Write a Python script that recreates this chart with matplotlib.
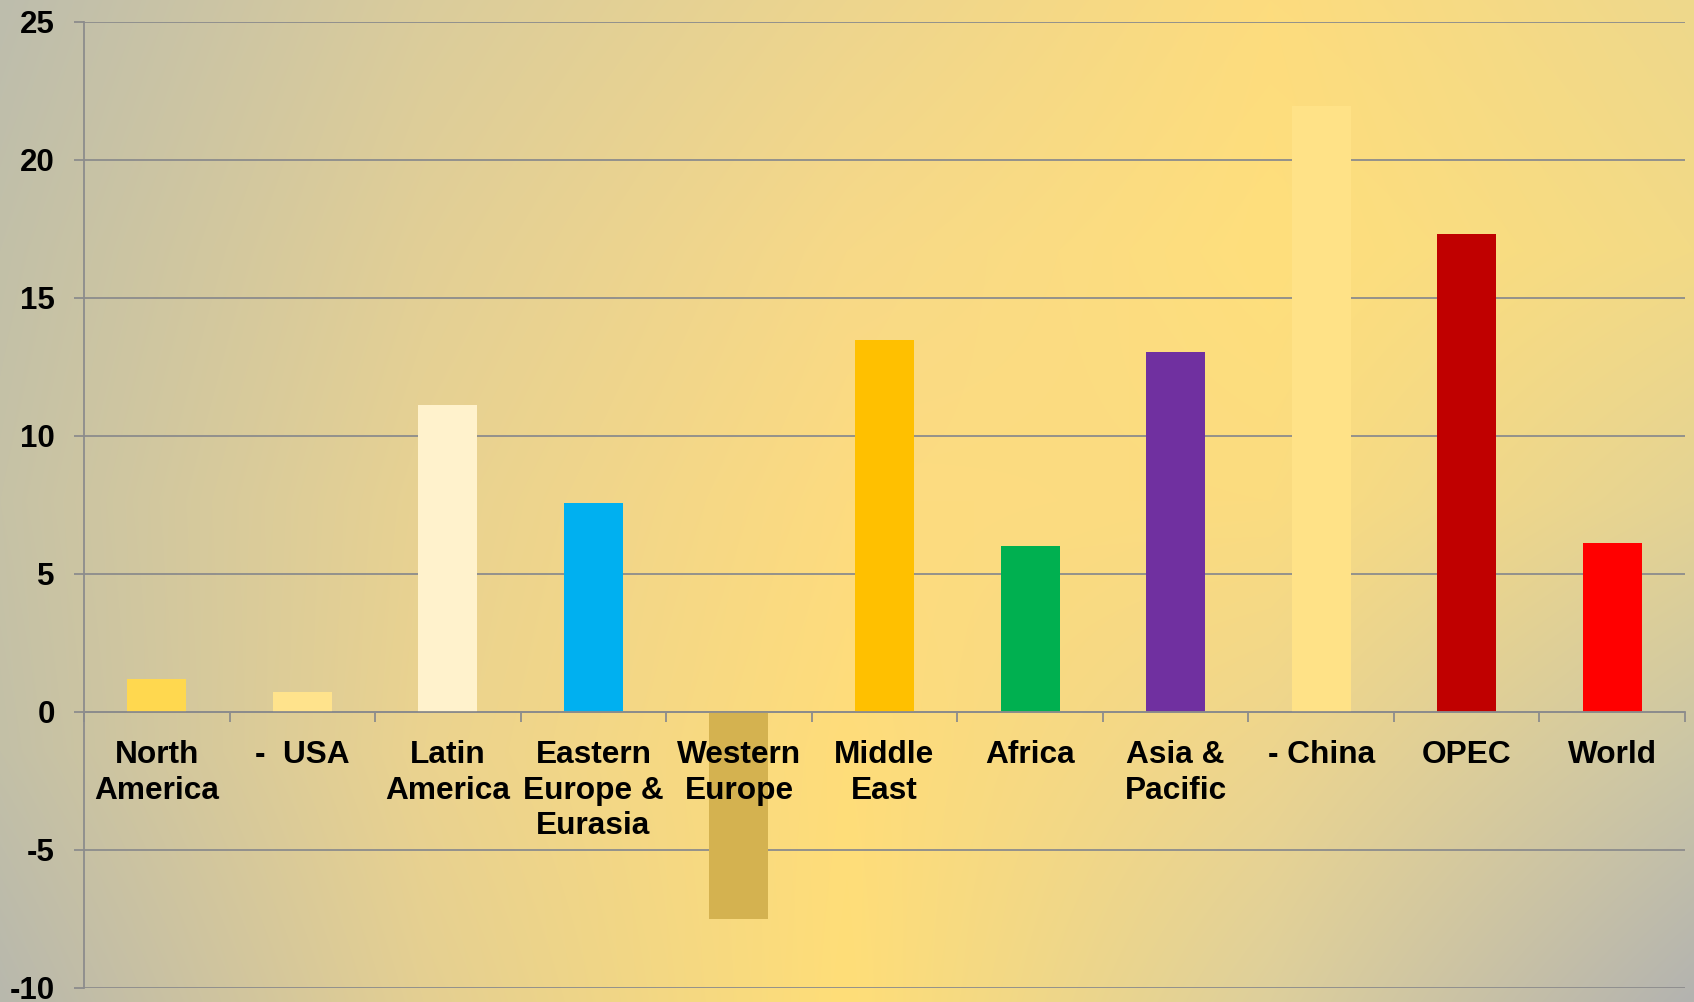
import numpy as np
import matplotlib
matplotlib.use("Agg")
import matplotlib.pyplot as plt

# data
regions = ["North\nAmerica", "-  USA", "Latin\nAmerica", "Eastern\nEurope &\nEurasia",
           "Western\nEurope", "Middle\nEast", "Africa", "Asia &\nPacific",
           "- China", "OPEC", "World"]
values = [1.2, 0.7, 11.1, 7.55, -7.5, 13.45, 6.0, 13.05, 21.95, 17.3, 6.1]
bar_colors = ["#FFD84F", "#FFE38C", "#FFF2CC", "#00B0F0", "#D4B250", "#FFC000",
              "#00B050", "#7030A0", "#FFE287", "#C00000", "#FF0000"]
yticks = [-10, -5, 0, 5, 10, 15, 20, 25]

W, H = 1694, 1002
grid_col = "#8C8C8C"

# background colour samples (rows top->bottom, cols left->right)
bg_cols = [
    ["#BDBDAD", "#DACC9C", "#EDD58E", "#FDDC7E", "#EED88C"],
    ["#C2C0A8", "#E2CF96", "#F7D988", "#FFDF7C", "#F3DA86"],
    ["#C6C2A6", "#E8D292", "#FDDB80", "#FBDC80", "#E4D394"],
    ["#C3C0A7", "#EBD38F", "#FFDD7A", "#EDD58E", "#CBC6A6"],
    ["#B8B8AD", "#E4CF92", "#FFDE78", "#DDCF9C", "#B3B3B0"],
]

plt.rcParams["font.family"] = ["Liberation Sans", "DejaVu Sans"]
plt.rcParams["font.weight"] = "bold"

fig = plt.figure(figsize=(W / 100, H / 100), dpi=100)

# smooth background from the sampled colours
samples = np.array([[matplotlib.colors.to_rgb(c) for c in row] for row in bg_cols])
gx = np.linspace(0, W - 1, samples.shape[1])
gy = np.linspace(0, H - 1, samples.shape[0])
px = np.arange(W)
py = np.arange(H)
rows = np.stack([np.stack([np.interp(px, gx, samples[r, :, ch]) for ch in range(3)], -1)
                 for r in range(samples.shape[0])])
img = np.stack([np.stack([np.interp(py, gy, rows[:, i, ch]) for i in range(W)], -1)
                for ch in range(3)], -1)
bg = fig.add_axes([0, 0, 1, 1], zorder=0)
bg.imshow(img, aspect="auto", interpolation="bilinear")
bg.axis("off")

ax = fig.add_axes([84 / W, 1 - 987.7 / H, (1685 - 84) / W, (987.7 - 21.7) / H], zorder=1)
ax.patch.set_alpha(0)

x = np.arange(len(values))
ax.bar(x, values, width=0.405, color=bar_colors, zorder=2)

ax.set_xlim(-0.5, len(values) - 0.5)
ax.set_ylim(-10, 25)
ax.set_yticks(yticks)
ax.set_yticklabels([str(v) for v in yticks])
ax.yaxis.grid(True, color=grid_col, linewidth=1.3)
ax.set_axisbelow(True)
ax.xaxis.set_zorder(4)

for s in ["top", "right"]:
    ax.spines[s].set_visible(False)
ax.spines["left"].set_color(grid_col)
ax.spines["left"].set_linewidth(1.3)
ax.spines["bottom"].set_position(("data", 0))
ax.spines["bottom"].set_color(grid_col)
ax.spines["bottom"].set_linewidth(1.3)
ax.spines["bottom"].set_zorder(3)

# boundary ticks between categories, labels centred under bars
ax.set_xticks(np.arange(-0.5, len(values), 1.0))
ax.set_xticklabels([])
ax.set_xticks(x, minor=True)
ax.set_xticklabels(regions, minor=True, fontsize=22.8, fontweight="bold", linespacing=1.24)
ax.tick_params(axis="x", which="major", length=7, width=1.3, color=grid_col, direction="out")
ax.tick_params(axis="x", which="minor", length=0, pad=20.5)
ax.tick_params(axis="y", length=7, width=1.3, color=grid_col, pad=14, labelsize=22.5)
for lab in ax.get_yticklabels():
    lab.set_fontweight("bold")

fig.savefig("out.png", dpi=100)
